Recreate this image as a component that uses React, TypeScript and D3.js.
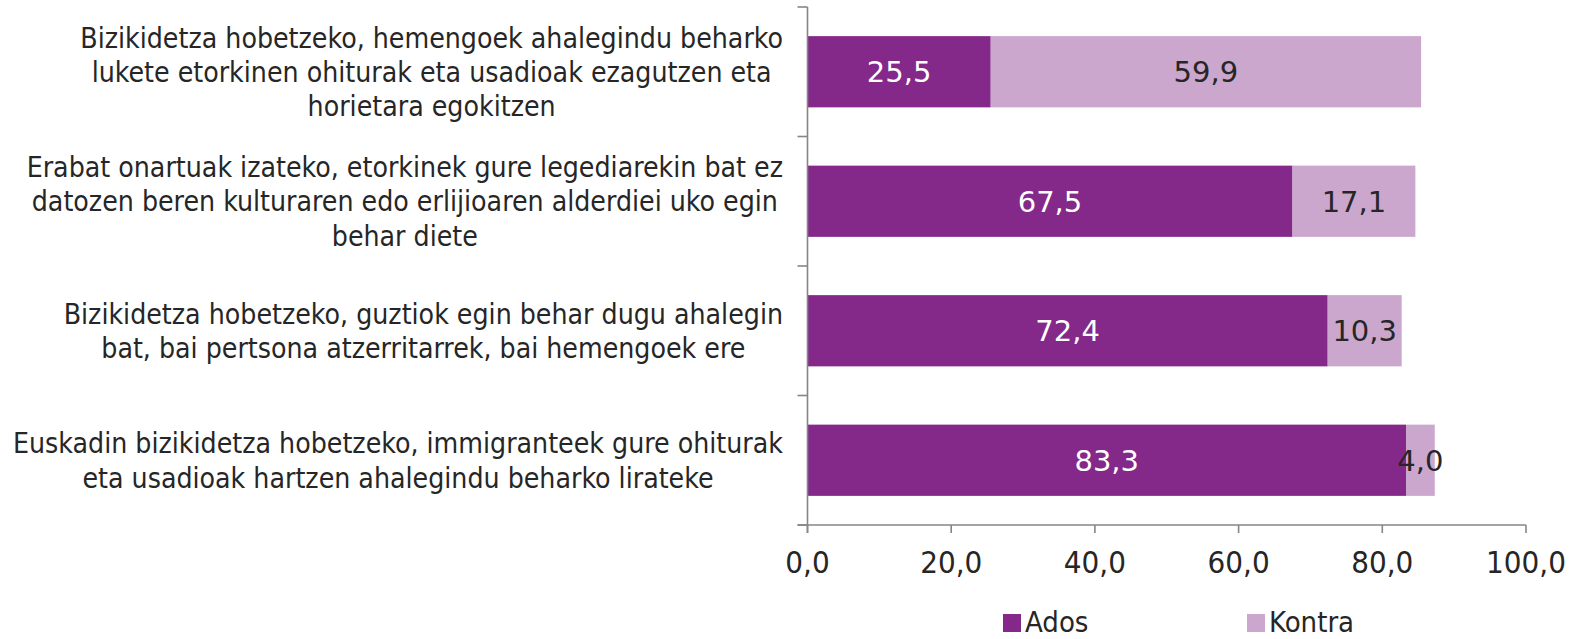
import * as d3 from "d3";
import { useEffect, useRef } from "react";

const categories = [
  ["Bizikidetza hobetzeko, hemengoek ahalegindu beharko", "lukete etorkinen ohiturak eta usadioak ezagutzen eta", "horietara egokitzen"],
  ["Erabat onartuak izateko, etorkinek gure legediarekin bat ez", "datozen beren kulturaren edo erlijioaren alderdiei uko egin", "behar diete"],
  ["Bizikidetza hobetzeko, guztiok egin behar dugu ahalegin", "bat, bai pertsona atzerritarrek, bai hemengoek ere"],
  ["Euskadin bizikidetza hobetzeko, immigranteek gure ohiturak", "eta usadioak hartzen ahalegindu beharko lirateke"],
];
const ados = [25.5, 67.5, 72.4, 83.3];
const kontra = [59.9, 17.1, 10.3, 4.0];
const seriesNames = ["Ados", "Kontra"];
const tickValues = [0, 20, 40, 60, 80, 100];

const colors = ["#84288a", "#cba7ce"];
const labelFont = "'DejaVu Sans Condensed', 'Liberation Sans Narrow', sans-serif";

export default function App() {
  const svgRef = useRef<SVGSVGElement | null>(null);
  const width = 1578;
  const height = 639;

  useEffect(() => {
    const svg = d3.select(svgRef.current);
    svg.selectAll("*").remove();
    const left = 807.5, right = 1526, top = 7, bottom = 525;
    const fmt = (v: number) => v.toFixed(1).replace(".", ",");

    const x = d3.scaleLinear().domain([0, 100]).range([left, right]);
    const y = d3
      .scaleBand<number>()
      .domain(d3.range(categories.length))
      .range([top, bottom])
      .paddingInner(0.45)
      .paddingOuter(0.225);

    const stacked = categories.map((_, i) => [
      { s: 0, x0: 0, x1: ados[i], v: ados[i] },
      { s: 1, x0: ados[i], x1: ados[i] + kontra[i], v: kontra[i] },
    ]);

    const g = svg.append("g");
    stacked.forEach((segs, i) => {
      segs.forEach((d) => {
        g.append("rect")
          .attr("x", x(d.x0))
          .attr("y", y(i)!)
          .attr("width", x(d.x1) - x(d.x0))
          .attr("height", y.bandwidth())
          .attr("fill", colors[d.s]);
        g.append("text")
          .attr("x", (x(d.x0) + x(d.x1)) / 2)
          .attr("y", y(i)! + y.bandwidth() / 2)
          .attr("dy", "0.36em")
          .attr("text-anchor", "middle")
          .attr("font-family", "'DejaVu Sans', sans-serif")
          .attr("font-size", 29)
          .attr("fill", d.s === 0 ? "#ffffff" : "#262626")
          .text(fmt(d.v));
      });
    });

    // axes
    const axisColor = "#868686";
    const step = y.step();
    const ax = svg.append("g").attr("stroke", axisColor).attr("stroke-width", 1.6);
    ax.append("line").attr("x1", left).attr("x2", left).attr("y1", top).attr("y2", bottom + 8);
    ax.append("line").attr("x1", left - 10).attr("x2", right).attr("y1", bottom).attr("y2", bottom);
    d3.range(categories.length + 1).forEach((k) => {
      const yy = top + k * step;
      ax.append("line").attr("x1", left - 10).attr("x2", left).attr("y1", yy).attr("y2", yy);
    });
    tickValues.forEach((t) => {
      ax.append("line").attr("x1", x(t)).attr("x2", x(t)).attr("y1", bottom).attr("y2", bottom + 8);
    });
    svg
      .append("g")
      .selectAll("text")
      .data(tickValues)
      .join("text")
      .attr("x", (d) => x(d))
      .attr("y", 573)
      .attr("text-anchor", "middle")
      .attr("font-family", labelFont)
      .attr("font-size", 31)
      .attr("fill", "#262626")
      .text((d) => fmt(d));

    // category labels
    categories.forEach((lines, i) => {
      const t = svg
        .append("text")
        .attr("font-family", labelFont)
        .attr("font-size", 28.2)
        .attr("fill", "#262626")
        .attr("text-anchor", "middle");
      const lh = 34.2;
      const cy = y(i)! + y.bandwidth() / 2;
      const spans = lines.map((ln, j) =>
        t
          .append("tspan")
          .attr("y", cy + (j - (lines.length - 1) / 2) * lh)
          .attr("dy", "0.36em")
          .text(ln)
      );
      const maxW = d3.max(spans, (s) => (s.node() as SVGTSpanElement).getComputedTextLength()) || 0;
      spans.forEach((s) => s.attr("x", 783 - maxW / 2));
    });

    // legend
    const legendX = [1003, 1247];
    seriesNames.forEach((n, i) => {
      svg.append("rect").attr("x", legendX[i]).attr("y", 614).attr("width", 18).attr("height", 18).attr("fill", colors[i]);
      svg
        .append("text")
        .attr("x", legendX[i] + 22)
        .attr("y", 632)
        .attr("font-family", labelFont)
        .attr("font-size", 29)
        .attr("fill", "#262626")
        .text(n);
    });
  }, []);

  return (
    <svg
      ref={svgRef}
      width={width}
      height={height}
      style={{ position: "absolute", left: 0, top: 0, background: "#ffffff" }}
    ></svg>
  );
}
